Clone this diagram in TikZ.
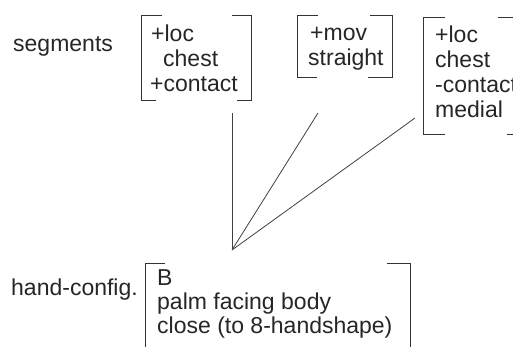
\documentclass[tikz,border=0pt]{standalone}
\usepackage{fontspec}
\setmainfont{Liberation Sans}
\begin{document}
\begin{tikzpicture}[x=1pt,y=-1pt,
  txt/.style={anchor=base west, inner sep=0pt, font=\fontsize{23}{25}\selectfont, text=black!85},
  brk/.style={draw=black!80, line width=0.8pt},
  link/.style={draw=black!75, line width=0.8pt}]
\useasboundingbox (0,0) rectangle (513,347);
\clip (0,0) rectangle (513,347);

% labels
\node[txt] (seglab) at (13,52) {segments};
\node[txt] (handlab) at (11,295) {hand-config.};

% segment 1
\node[txt] (s1a) at (151,42) {+loc};
\node[txt] (s1b) at (163,67) {chest};
\node[txt] (s1c) at (150,92) {+contact};
\draw[brk] (162,15) -- (141,15) -- (141,100) -- (156,100);
\draw[brk] (232,15) -- (251,15) -- (251,100) -- (237,100);

% segment 2
\node[txt] (s2a) at (310,41) {+mov};
\node[txt] (s2b) at (308,66) {straight};
\draw[brk] (318,15) -- (297,15) -- (297,77) -- (317,77);
\draw[brk] (370,15) -- (392,15) -- (392,77) -- (368,77);

% segment 3
\node[txt] (s3a) at (435,43) {+loc};
\node[txt] (s3b) at (435,68) {chest};
\node[txt] (s3c) at (435,93) {-contact};
\node[txt] (s3d) at (435,118) {medial};
\draw[brk] (445,17) -- (423,17) -- (423,134) -- (445,134);
\draw[brk] (498,17) -- (515,17) -- (515,134) -- (507,134);

% hand configuration
\node[txt] (h1) at (157,285) {B};
\node[txt] (h2) at (157,309) {palm facing body};
\node[txt] (h3) at (157,333) {close (to 8-handshape)};
\draw[brk] (165,263) -- (145,263) -- (145,360);
\draw[brk] (387,263) -- (410,263) -- (410,360);

% association lines
\coordinate (apex) at (232,250);
\coordinate (t1) at (232,113);
\coordinate (t2) at (318,113);
\coordinate (t3) at (415,118);
\draw[link] (t1) -- (apex);
\draw[link] (t2) -- (apex);
\draw[link] (t3) -- (apex);
\end{tikzpicture}
\end{document}
